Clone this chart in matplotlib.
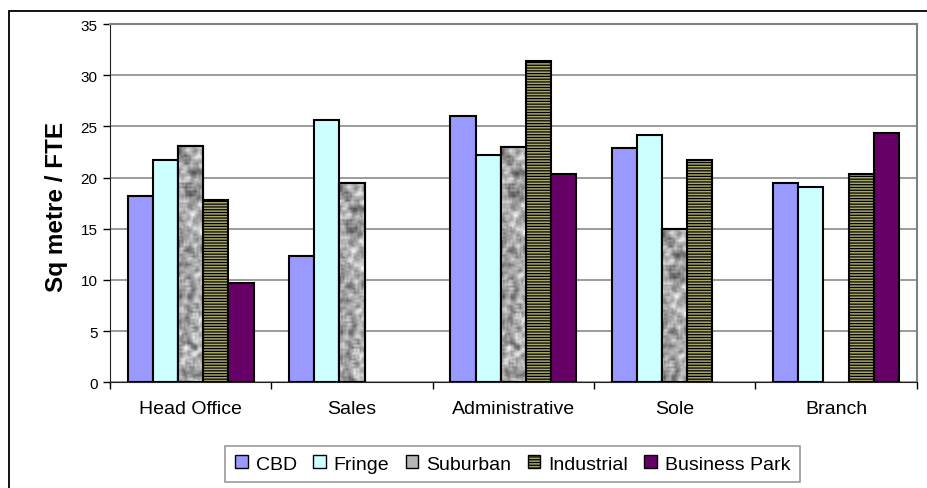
import numpy as np
import matplotlib
matplotlib.use("Agg")
import matplotlib.pyplot as plt
from matplotlib.patches import Rectangle, Patch

plt.rcParams['font.family'] = ['Liberation Sans', 'DejaVu Sans']

categories = ['Head Office', 'Sales', 'Administrative', 'Sole', 'Branch']
series = ['CBD', 'Fringe', 'Suburban', 'Industrial', 'Business Park']
cbd = [18.2, 12.3, 26.0, 22.9, 19.5]
fringe = [21.7, 25.6, 22.2, 24.2, 19.1]
suburban = [23.1, 19.5, 23.0, 15.0, np.nan]
industrial = [17.8, np.nan, 31.4, 21.7, 20.3]
business_park = [9.7, np.nan, 20.3, np.nan, 24.4]
yticks = [0, 5, 10, 15, 20, 25, 30, 35]


def granite(h, w):
    # deterministic hash noise, smoothed into a stone-like grey texture
    yy, xx = np.mgrid[0:h, 0:w].astype(float)
    n = np.sin(xx * 12.9898 + yy * 78.233) * 43758.5453
    n = n - np.floor(n)
    s = np.zeros_like(n)
    for dy in (-1, 0, 1):
        for dx in (-1, 0, 1):
            s += np.roll(np.roll(n, dy, axis=0), dx, axis=1)
    s = s / 9.0
    s = (s - s.min()) / (s.max() - s.min())
    return s


fig = plt.figure(figsize=(9.27, 4.89), dpi=100)
ax = fig.add_axes([110 / 927, 1 - 383.3 / 489, (916.7 - 110) / 927, (383.3 - 25) / 489])

# outer chart border
fig.patches.append(Rectangle((9 / 927, -0.2), 1.2, 1.2 - 12 / 489,
                             transform=fig.transFigure, fill=False,
                             edgecolor='black', lw=1.3))

x = np.arange(len(categories))
w = 0.156
edge = dict(edgecolor='black', linewidth=1.5, zorder=3)

ax.bar(x - 2 * w, cbd, w, color='#9999FF', **edge)
ax.bar(x - 1 * w, fringe, w, color='#CCFFFF', **edge)
sub_bars = ax.bar(x, suburban, w, color='#B0B0B0', **edge)
plt.rcParams['hatch.linewidth'] = 0.9
plt.rcParams['hatch.color'] = '#45451C'
ax.bar(x + 1 * w, industrial, w, color='#A8A86A', hatch='------', **edge)
ax.bar(x + 2 * w, business_park, w, color='#660066', **edge)

# stone texture inside the suburban bars
for b in sub_bars:
    hgt = b.get_height()
    if not np.isfinite(hgt) or hgt <= 0:
        continue
    tex = granite(int(hgt * 10.3 / 2) + 2, 14)
    im = ax.imshow(tex, cmap='gray', vmin=-0.45, vmax=1.0, aspect='auto',
                   extent=(b.get_x(), b.get_x() + b.get_width(), 0, hgt),
                   interpolation='bilinear', zorder=3.5)
    im.set_clip_path(b)
    ax.add_patch(Rectangle((b.get_x(), 0), b.get_width(), hgt, fill=False,
                           edgecolor='black', lw=1.5, zorder=4))

ax.set_xlim(-0.5, len(categories) - 0.5)
ax.set_ylim(0, 35)
ax.set_yticks(yticks)
ax.set_yticklabels([str(v) for v in yticks], fontsize=11)
ax.tick_params(axis='y', direction='out', length=5, width=1, pad=4)

ax.set_xticks(np.arange(len(categories) + 1) - 0.5)
ax.set_xticklabels([])
ax.tick_params(axis='x', which='major', direction='out', length=5, width=1)
ax.set_xticks(x, minor=True)
ax.set_xticklabels(categories, minor=True, fontsize=14)
ax.tick_params(axis='x', which='minor', length=0, pad=13)

ax.yaxis.grid(True, color='#808080', lw=1.1, zorder=0)
ax.set_axisbelow(True)
ax.spines['top'].set_color('#808080')
ax.spines['right'].set_color('#808080')
ax.spines['top'].set_linewidth(1.5)
ax.spines['right'].set_linewidth(1.5)
ax.spines['left'].set_color('#222222')
ax.spines['bottom'].set_color('#222222')

fig.text(56 / 927, 1 - 207 / 489, 'Sq metre / FTE', rotation=90, fontsize=17.5,
         fontweight='bold', ha='center', va='center')

handles = [Patch(facecolor='#9999FF', edgecolor='black'),
           Patch(facecolor='#CCFFFF', edgecolor='black'),
           Patch(facecolor='#B5B5B5', edgecolor='black'),
           Patch(facecolor='#A8A86A', edgecolor='black', hatch='------'),
           Patch(facecolor='#660066', edgecolor='black')]
leg = fig.legend(handles, series, loc='center', bbox_to_anchor=(512.7 / 927, 1 - 465 / 489),
                 ncol=5, fontsize=14, frameon=True, fancybox=False,
                 handlelength=0.65, handleheight=0.65, handletextpad=0.4,
                 columnspacing=0.85, borderpad=0.5)
leg.get_frame().set_edgecolor('#808080')
leg.get_frame().set_linewidth(1.2)

fig.savefig('out.png', dpi=100)
